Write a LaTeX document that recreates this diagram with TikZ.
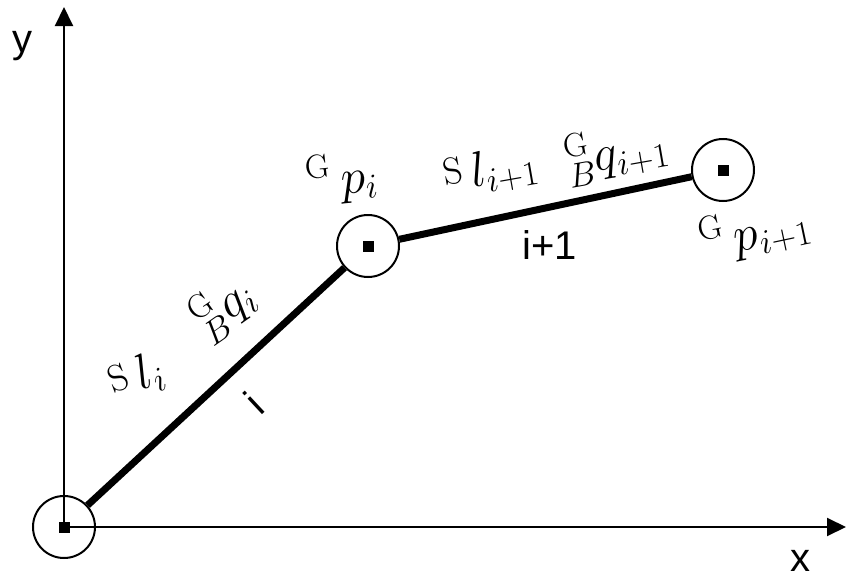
\documentclass[tikz,border=0pt]{standalone}
\usepackage{fontspec}
\newfontfamily\lsans{Liberation Sans}
\usetikzlibrary{arrows.meta}
\newcommand{\bigS}{\raisebox{3.5pt}{\fontsize{19}{19}\selectfont S}}
\begin{document}
\begin{tikzpicture}[x=0.5pt,y=-0.5pt,
  joint/.style={circle,draw,line width=1pt,minimum size=31pt,inner sep=0pt},
  sq/.style={fill,minimum size=5.5pt,inner sep=0pt},
  link/.style={line width=3.5pt},
  axis/.style={line width=1pt,-{Triangle[length=9.5pt,width=9pt]}},
  slab/.style={font=\lsans\fontsize{20}{24}\selectfont,inner sep=0pt},
  mlab/.style={font=\fontsize{24}{28}\selectfont,inner sep=0pt}]
\useasboundingbox (0,0) rectangle (847,578);
% joints
\node[joint] (j0) at (64,527) {};
\node[joint] (j1) at (368,246) {};
\node[joint] (j2) at (723,170) {};
\node[sq] (s0) at (j0.center) {};
\node[sq] (s1) at (j1.center) {};
\node[sq] (s2) at (j2.center) {};
% axes
\coordinate (ytip) at (64,7);
\coordinate (xtip) at (846,527);
\draw[axis] (j0.center) -- (ytip);
\draw[axis] (j0.center) -- (xtip);
% links
\draw[link] (j0) -- (j1);
\draw[link] (j1) -- (j2);
% axis labels
\node[slab] (ylab) at (22,46) {y};
\node[slab] (xlab) at (800,561) {x};
% link labels
\node[slab,rotate=43] (li) at (254,403) {i};
\node[slab] (li1) at (550,245) {i+1};
% math labels
\node[mlab,rotate=20] (Sli) at (137,378) {\bigS\,$l_i$};
\node[mlab,rotate=35] (GBqi) at (224,307) {${}^{\mathrm{G}}_{B}q_i$};
\node[mlab,rotate=6] (Gpi) at (342,178) {${}^{\mathrm{G}}\,p_i$};
\node[mlab,rotate=10] (Sli1) at (491,172) {\bigS\,$l_{i+1}$};
\node[mlab,rotate=10] (GBqi1) at (617,153) {${}^{\mathrm{G}}_{B}q_{i+1}$};
\node[mlab,rotate=12] (Gpi1) at (755,232) {${}^{\mathrm{G}}\,p_{i+1}$};
\end{tikzpicture}
\end{document}
